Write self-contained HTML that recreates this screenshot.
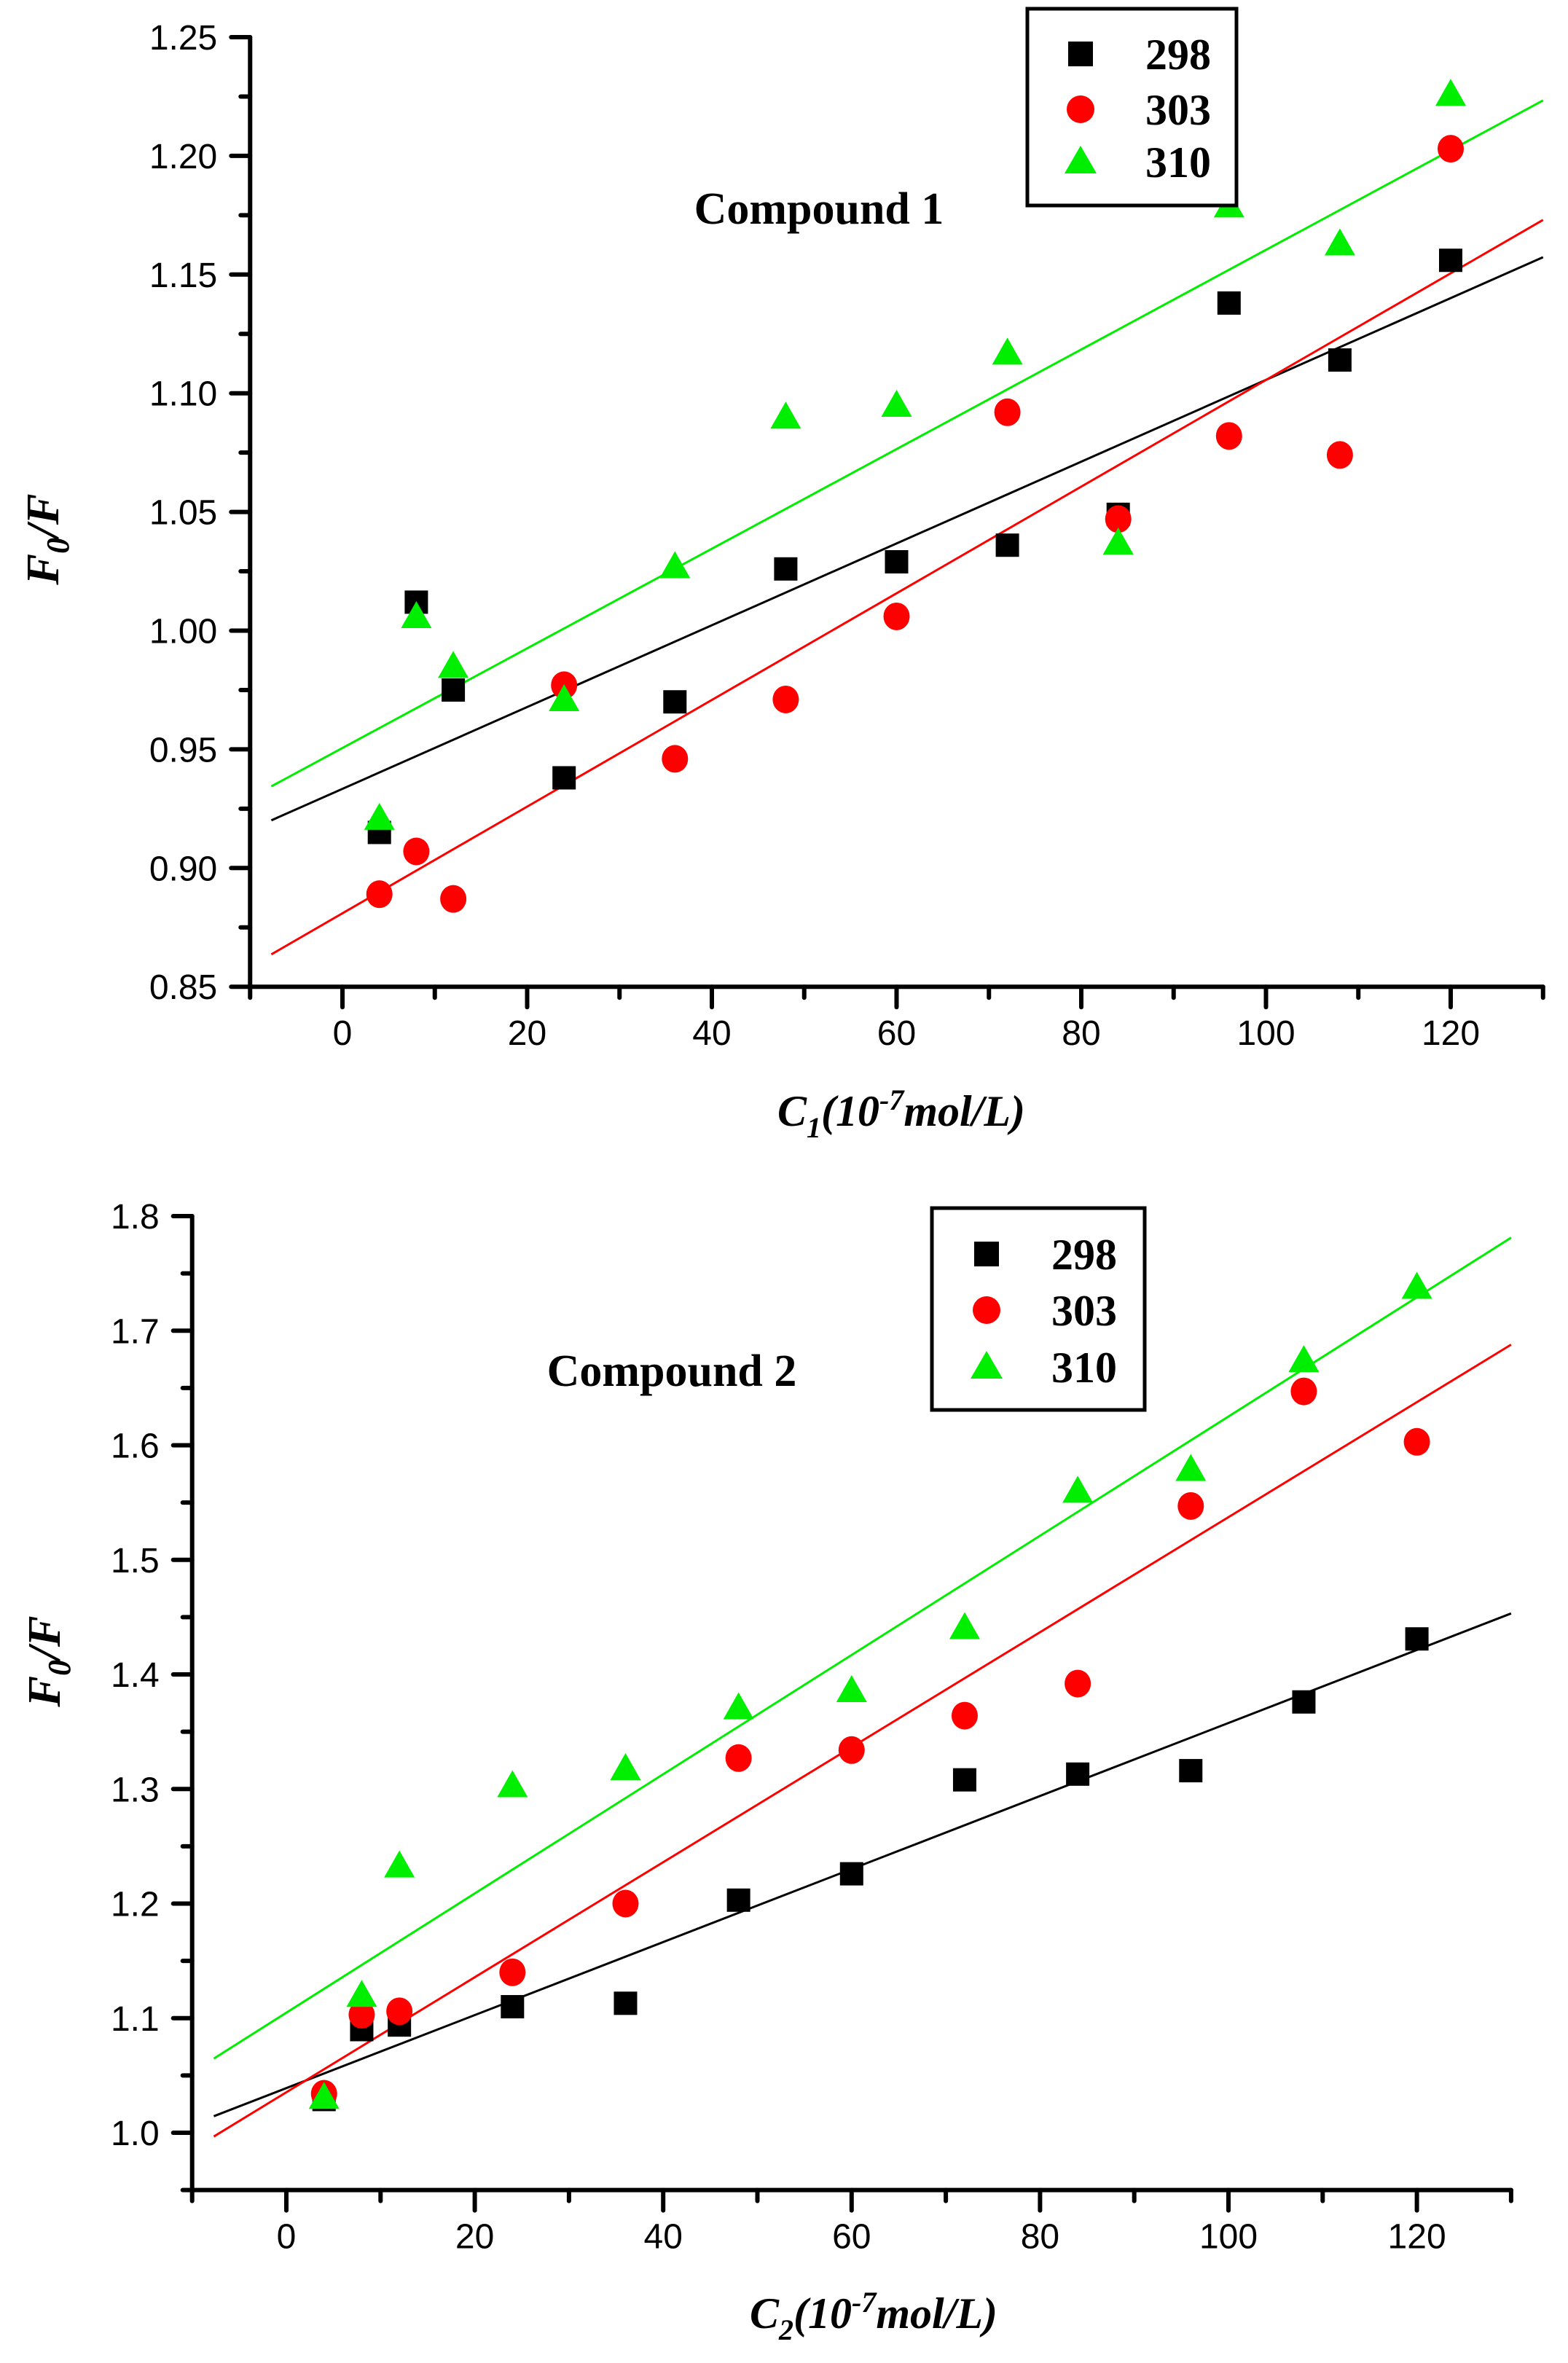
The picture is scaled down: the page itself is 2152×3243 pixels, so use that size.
<!DOCTYPE html>
<html><head><meta charset="utf-8"><style>
html,body{margin:0;padding:0;background:#fff;}
svg{display:block;}
</style></head><body>
<svg id="chart" width="2152" height="3243" viewBox="0 0 2152 3243" xmlns="http://www.w3.org/2000/svg"></svg>
<script>
const concentrations = [4, 8, 12, 24, 36, 48, 60, 72, 84, 96, 108, 120];
const c1_298 = [0.915, 1.012, 0.975, 0.938, 0.970, 1.026, 1.029, 1.036, 1.049, 1.138, 1.114, 1.156];
const c1_303 = [0.889, 0.907, 0.887, 0.977, 0.946, 0.971, 1.006, 1.092, 1.047, 1.082, 1.074, 1.203];
const c1_310 = [0.921, 1.006, 0.985, 0.971, 1.027, 1.090, 1.095, 1.117, 1.037, 1.179, 1.163, 1.226];
const c2_298 = [1.029, 1.090, 1.094, 1.110, 1.113, 1.203, 1.226, 1.308, 1.313, 1.316, 1.376, 1.431];
const c2_303 = [1.034, 1.103, 1.106, 1.140, 1.200, 1.327, 1.334, 1.364, 1.392, 1.547, 1.647, 1.603];
const c2_310 = [1.031, 1.120, 1.233, 1.303, 1.318, 1.371, 1.386, 1.441, 1.560, 1.579, 1.674, 1.738];
const xTicks = [0, 20, 40, 60, 80, 100, 120];
const yTicks1 = ["0.85","0.90","0.95","1.00","1.05","1.10","1.15","1.20","1.25"];
const yTicks2 = ["1.0","1.1","1.2","1.3","1.4","1.5","1.6","1.7","1.8"];
const legendLabels = ["298", "303", "310"];

const NS = "http://www.w3.org/2000/svg";
const svg = document.getElementById("chart");
function mk(tag, attrs, parent, text) {
  const e = document.createElementNS(NS, tag);
  for (const k in attrs) e.setAttribute(k, attrs[k]);
  if (text !== undefined) e.textContent = text;
  (parent || svg).appendChild(e);
  return e;
}
function fit(xs, ys) {
  const n = xs.length; let sx=0, sy=0, sxx=0, sxy=0;
  for (let i=0;i<n;i++){sx+=xs[i];sy+=ys[i];sxx+=xs[i]*xs[i];sxy+=xs[i]*ys[i];}
  const b = (n*sxy - sx*sy)/(n*sxx - sx*sx);
  return {b, a:(sy - b*sx)/n};
}
const colors = ["#000000", "#ff0000", "#00ee00"];

function drawChart(cfg) {
  const g = mk("g", {});
  
  
  const X = v => cfg.x0 + (v - 0) * cfg.xs;
  const Y = v => cfg.yRef + (cfg.vRef - v) * cfg.ys;
  const left = X(-10), right = X(130), bottom = Y(cfg.ymin), top = Y(cfg.ymax);
  // fit lines
  cfg.series.forEach((s, i) => {
    const f = fit(concentrations, s);
    const l = mk("line", {x1:X(-7.7), y1:Y(f.a + f.b*-7.7), x2:X(130), y2:Y(f.a+f.b*130), stroke:colors[i], "stroke-width":3}, g);
    
    
  });
  // markers
  cfg.series.forEach((s, i) => {
    s.forEach((v, j) => {
      const cx = X(concentrations[j]), cy = Y(v);
      let m;
      if (i === 0) m = mk("rect", {x:cx-16, y:cy-16, width:32, height:32, fill:colors[0]}, g);
      else if (i === 1) m = mk("ellipse", {cx, cy, rx:18, ry:19, fill:colors[1]}, g);
      else m = mk("polygon", {points:`${cx},${cy-21} ${cx-21},${cy+16} ${cx+21},${cy+16}`, fill:colors[2]}, g);
      
      
    });
  });
  // axes
  const ax = mk("path", {d:`M${left},${top} L${left},${bottom} L${right},${bottom}`, fill:"none", stroke:"#000", "stroke-width":6, "stroke-linecap":"round", "stroke-linejoin":"miter"}, g);
  
  
  // x ticks
  for (let v = -10; v <= 130; v += 10) {
    const major = v % 20 === 0;
    mk("line", {x1:X(v), y1:bottom, x2:X(v), y2:bottom + (major?28:15), stroke:"#000", "stroke-width":6, "stroke-linecap":"round"}, g);
  }
  xTicks.forEach(v => {
    const t = mk("text", {x:X(v), y:bottom+80, "font-family":"Liberation Sans, sans-serif", "font-size":48, "text-anchor":"middle"}, g, String(v));
    
    
  });
  // y ticks
  const step = cfg.ystep;
  for (let k = 0; k <= 2*(cfg.yTicks.length-1); k++) {
    const v = parseFloat(cfg.yTicks[0]) + k*step/2;
    const major = k % 2 === 0;
    mk("line", {x1:left, y1:Y(v), x2:left - (major?26:13), y2:Y(v), stroke:"#000", "stroke-width":6, "stroke-linecap":"round"}, g);
  }
  if (cfg.ymin < parseFloat(cfg.yTicks[0])) {
    mk("line", {x1:left, y1:bottom, x2:left-13, y2:bottom, stroke:"#000", "stroke-width":6, "stroke-linecap":"round"}, g);
  }
  cfg.yTicks.forEach(lbl => {
    const t = mk("text", {x:left-45, y:Y(parseFloat(lbl))+17, "font-family":"Liberation Sans, sans-serif", "font-size":48, "text-anchor":"end"}, g, lbl);
    
    
  });
  // y title
  const yt = mk("text", {transform:`translate(${cfg.ytx},${cfg.yty}) rotate(-90)`, "font-family":"Liberation Serif, serif", "font-size":64, "font-weight":"bold", "font-style":"italic", "text-anchor":"middle"}, g);
  
  
  mk("tspan", {}, yt, "F");
  mk("tspan", {"font-size":44, dy:14}, yt, "0");
  mk("tspan", {dy:-14}, yt, "/F");
  // x title
  const xt = mk("text", {x:cfg.xtx, y:cfg.xty, "font-family":"Liberation Serif, serif", "font-size":60, "font-weight":"bold", "font-style":"italic", "text-anchor":"middle"}, g);
  
  
  mk("tspan", {}, xt, "C");
  mk("tspan", {"font-size":40, dy:16}, xt, cfg.sub);
  mk("tspan", {dy:-16}, xt, "(10");
  mk("tspan", {"font-size":40, dy:-22}, xt, "-7");
  mk("tspan", {dy:22}, xt, "mol/L)");
  // compound label
  const cl = mk("text", {x:cfg.clx, y:cfg.cly, "font-family":"Liberation Serif, serif", "font-size":62, "font-weight":"bold", "text-anchor":"middle"}, g, cfg.compound);
  
  
  // legend
  const lg = mk("g", {}, g);
  
  
  const L = cfg.legend;
  mk("rect", {x:L.x1, y:L.y1, width:L.x2-L.x1, height:L.y2-L.y1, fill:"#fff", stroke:"#000", "stroke-width":5}, lg);
  legendLabels.forEach((lbl, i) => {
    const cy = L.rows[i], cx = L.mx;
    let m;
    if (i === 0) m = mk("rect", {x:cx-17, y:cy-17, width:34, height:34, fill:colors[0]}, lg);
    else if (i === 1) m = mk("ellipse", {cx, cy, rx:19, ry:19, fill:colors[1]}, lg);
    else m = mk("polygon", {points:`${cx},${cy-22} ${cx-22},${cy+16} ${cx+22},${cy+16}`, fill:colors[2]}, lg);
    
    
    const t = mk("text", {x:L.tx, y:cy+21, "font-family":"Liberation Serif, serif", "font-size":60, "font-weight":"bold", "text-anchor":"middle"}, lg, lbl);
    
    
  });
}

drawChart({name:"compound-1-chart", x0:470, xs:12.675, yRef:51, vRef:1.25, ys:162.9/0.05,
  ymin:0.85, ymax:1.25, ystep:0.05, yTicks:yTicks1, series:[c1_298, c1_303, c1_310],
  ytx:80, yty:740, xtx:1237, xty:1545, sub:"1", compound:"Compound 1", clx:1124, cly:307,
  legend:{x1:1410, y1:12, x2:1697, y2:282, mx:1483, tx:1617, rows:[74,150,222]}});
drawChart({name:"compound-2-chart", x0:393, xs:12.93, yRef:1669, vRef:1.8, ys:157.25/0.1,
  ymin:0.95, ymax:1.8, ystep:0.1, yTicks:yTicks2, series:[c2_298, c2_303, c2_310],
  ytx:82, yty:2280, xtx:1199, xty:3195, sub:"2", compound:"Compound 2", clx:922, cly:1902,
  legend:{x1:1279, y1:1658, x2:1571, y2:1935, mx:1354, tx:1488, rows:[1721,1798,1876]}});
</script>
</body></html>
